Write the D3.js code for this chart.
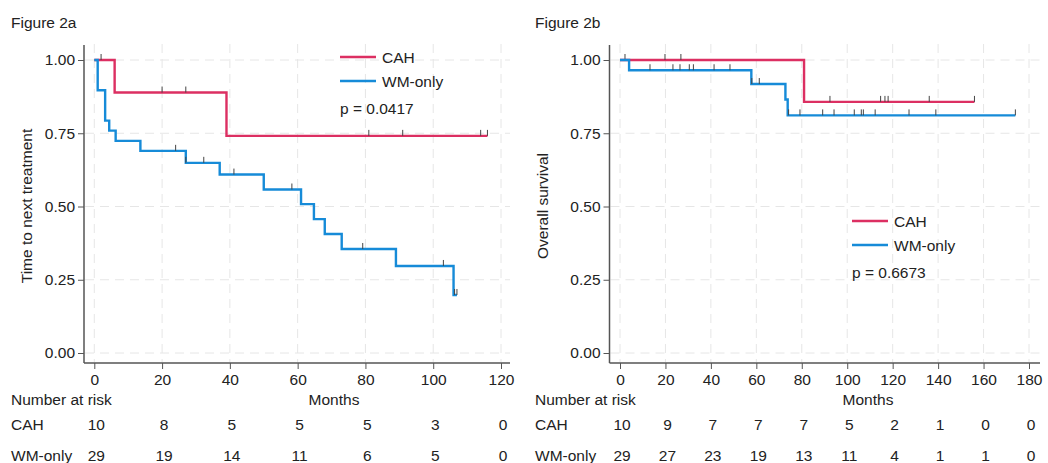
<!DOCTYPE html>
<html>
<head>
<meta charset="utf-8">
<script src="https://cdn.jsdelivr.net/npm/d3@7"></script>
<style>
  body { margin: 0; background: #fff; }
  svg { font-family: "Liberation Sans", Arial, sans-serif; }
</style>
</head>
<body>
<div id="graph"></div>
<script>
"use strict";

// Kaplan-Meier steps: [month, survival]
var ttntCAH = [[0, 1], [6, 0.889], [39, 0.741], [116, 0.741]];
var ttntCAHCens = [2, 20, 27, 81, 91, 114, 116];
var ttntWM = [[0, 1], [1, 0.897], [3.2, 0.793], [4.4, 0.759], [6.3, 0.724], [13.6, 0.690],
              [27, 0.649], [37, 0.609], [50, 0.558], [61, 0.508], [64.8, 0.457],
              [68, 0.406], [73, 0.355], [89, 0.297], [106, 0.198], [107, 0.198]];
var ttntWMCens = [24, 27, 32.3, 41.2, 58.3, 79.2, 103, 106.3, 107];

var osCAH = [[0, 1], [81, 0.857], [156, 0.857]];
var osCAHCens = [2.2, 19.8, 26.8, 92.4, 114.7, 116.6, 118, 136.1, 156];
var osWM = [[0, 1], [4, 0.965], [57.8, 0.918], [72.8, 0.865], [73.8, 0.811], [174, 0.811]];
var osWMCens = [13.2, 23.3, 26.4, 30.5, 32.3, 41.4, 48.4, 58, 61.3, 74.2, 79.2, 89.2, 94.2,
                103.1, 106.2, 107.1, 112.3, 127.2, 139, 174];

var groups = ["CAH", "WM-only"];
var yTicks = [0, 0.25, 0.5, 0.75, 1];
var ttntXTicks = [0, 20, 40, 60, 80, 100, 120];
var osXTicks = [0, 20, 40, 60, 80, 100, 120, 140, 160, 180];
var ttntRiskCAH = [10, 8, 5, 5, 5, 3, 0];
var ttntRiskWM = [29, 19, 14, 11, 6, 5, 0];
var osRiskCAH = [10, 9, 7, 7, 7, 5, 2, 1, 0, 0];
var osRiskWM = [29, 27, 23, 19, 13, 11, 4, 1, 1, 0];

var colors = { "CAH": "#dc2f62", "WM-only": "#168bd8" };
var fs = 15.5;

var W = 1048, H = 463;
var svg = d3.select("#graph").append("svg")
  .attr("width", W).attr("height", H);

function panel(opt) {
  var g = svg.append("g");
  var x = d3.scaleLinear().domain([0, opt.xMax]).range([opt.x0, opt.x1]);
  var y = d3.scaleLinear().domain([0, 1]).range([353, 60]);

  g.append("text").text(opt.title)
    .attr("x", opt.titleX).attr("y", 28).attr("font-size", fs).attr("fill", "#222");

  // grid
  g.selectAll(".vg").data(opt.xTicks).enter().append("line")
    .attr("x1", function(d) { return x(d); }).attr("x2", function(d) { return x(d); })
    .attr("y1", 44).attr("y2", 362)
    .attr("stroke", "#e6e6e6").attr("stroke-dasharray", "9,6").attr("stroke-width", 1);
  g.selectAll(".hg").data(yTicks).enter().append("line")
    .attr("x1", opt.axX + 1).attr("x2", opt.gridRight)
    .attr("y1", function(d) { return y(d); }).attr("y2", function(d) { return y(d); })
    .attr("stroke", "#e6e6e6").attr("stroke-dasharray", "9,6").attr("stroke-width", 1);

  // axes
  var yAxis = d3.axisLeft(y).tickValues(yTicks).tickFormat(d3.format(".2f")).tickSize(6).tickSizeOuter(0);
  var ya = g.append("g").attr("transform", "translate(" + opt.axX + ",0)").call(yAxis);
  ya.select(".domain").attr("d", "M0,45V363").attr("stroke", "#555").attr("stroke-width", 1.5);
  ya.selectAll(".tick line").attr("stroke", "#555");
  ya.selectAll(".tick text").attr("font-size", fs).attr("fill", "#222")
    .attr("font-family", "Liberation Sans, Arial, sans-serif").attr("x", -9);

  var xAxis = d3.axisBottom(x).tickValues(opt.xTicks).tickSize(6).tickSizeOuter(0);
  var xa = g.append("g").attr("transform", "translate(0,363)").call(xAxis);
  xa.select(".domain").attr("d", "M" + opt.axX + ",0H" + opt.gridRight).attr("stroke", "#555").attr("stroke-width", 1.5);
  xa.selectAll(".tick line").attr("stroke", "#555");
  xa.selectAll(".tick text").attr("font-size", fs).attr("fill", "#222")
    .attr("font-family", "Liberation Sans, Arial, sans-serif").attr("y", 11);

  g.append("text").text(opt.yLabel)
    .attr("transform", "translate(" + opt.yLabelX + ",206) rotate(-90)")
    .attr("text-anchor", "middle").attr("font-size", fs).attr("fill", "#222");

  g.append("text").text("Months")
    .attr("x", opt.monthsX).attr("y", 405).attr("text-anchor", "middle")
    .attr("font-size", fs).attr("fill", "#222");
  g.append("text").text("Number at risk")
    .attr("x", opt.titleX).attr("y", 405).attr("font-size", fs).attr("fill", "#222");

  // risk table
  var rows = [opt.riskCAH, opt.riskWM];
  rows.forEach(function(r, i) {
    var ry = 430 + i * 31;
    g.append("text").text(groups[i]).attr("x", opt.titleX).attr("y", ry)
      .attr("font-size", fs).attr("fill", "#222");
    g.selectAll(".r" + i).data(r).enter().append("text")
      .text(function(d) { return d; })
      .attr("x", function(d, j) { return x(opt.xTicks[j]) + 2; })
      .attr("y", ry).attr("text-anchor", "middle")
      .attr("font-size", fs).attr("fill", "#222");
  });

  // curves
  var line = d3.line().curve(d3.curveStepAfter)
    .x(function(d) { return x(d[0]); }).y(function(d) { return y(d[1]); });
  var series = [[opt.cah, opt.cahCens, "CAH"], [opt.wm, opt.wmCens, "WM-only"]];
  series.forEach(function(s) {
    var steps = s[0];
    g.append("path").datum(steps).attr("d", line)
      .attr("fill", "none").attr("stroke", colors[s[2]]).attr("stroke-width", 2.4);
    // censor marks
    function survAt(t) {
      var v = 1;
      steps.forEach(function(p) { if (p[0] <= t) v = p[1]; });
      return v;
    }
    g.selectAll(".c" + s[2]).data(s[1]).enter().append("line")
      .attr("x1", function(d) { return x(d); }).attr("x2", function(d) { return x(d); })
      .attr("y1", function(d) { return y(survAt(d)); })
      .attr("y2", function(d) { return y(survAt(d)) - 6; })
      .attr("stroke", "#444").attr("stroke-width", 1);
  });

  // legend
  groups.forEach(function(k, i) {
    var ly = opt.legY + i * 24;
    g.append("line").attr("x1", opt.legX).attr("x2", opt.legX + 36)
      .attr("y1", ly).attr("y2", ly).attr("stroke", colors[k]).attr("stroke-width", 2.4);
    g.append("text").text(k).attr("x", opt.legX + 42).attr("y", ly + 6)
      .attr("font-size", fs).attr("fill", "#222");
  });
  g.append("text").text(opt.p).attr("x", opt.legX).attr("y", opt.legY + 57)
    .attr("font-size", fs).attr("fill", "#222");
}

panel({
  title: "Figure 2a", titleX: 11, axX: 84, x0: 94.3, x1: 501, xMax: 120, gridRight: 510,
  xTicks: ttntXTicks, yLabel: "Time to next treatment", yLabelX: 32, monthsX: 334,
  riskCAH: ttntRiskCAH, riskWM: ttntRiskWM,
  cah: ttntCAH, cahCens: ttntCAHCens, wm: ttntWM, wmCens: ttntWMCens,
  legX: 340, legY: 57, p: "p = 0.0417"
});

panel({
  title: "Figure 2b", titleX: 535, axX: 609.5, x0: 620, x1: 1029, xMax: 180, gridRight: 1040,
  xTicks: osXTicks, yLabel: "Overall survival", yLabelX: 548, monthsX: 868,
  riskCAH: osRiskCAH, riskWM: osRiskWM,
  cah: osCAH, cahCens: osCAHCens, wm: osWM, wmCens: osWMCens,
  legX: 852, legY: 221, p: "p = 0.6673"
});
</script>
</body>
</html>
